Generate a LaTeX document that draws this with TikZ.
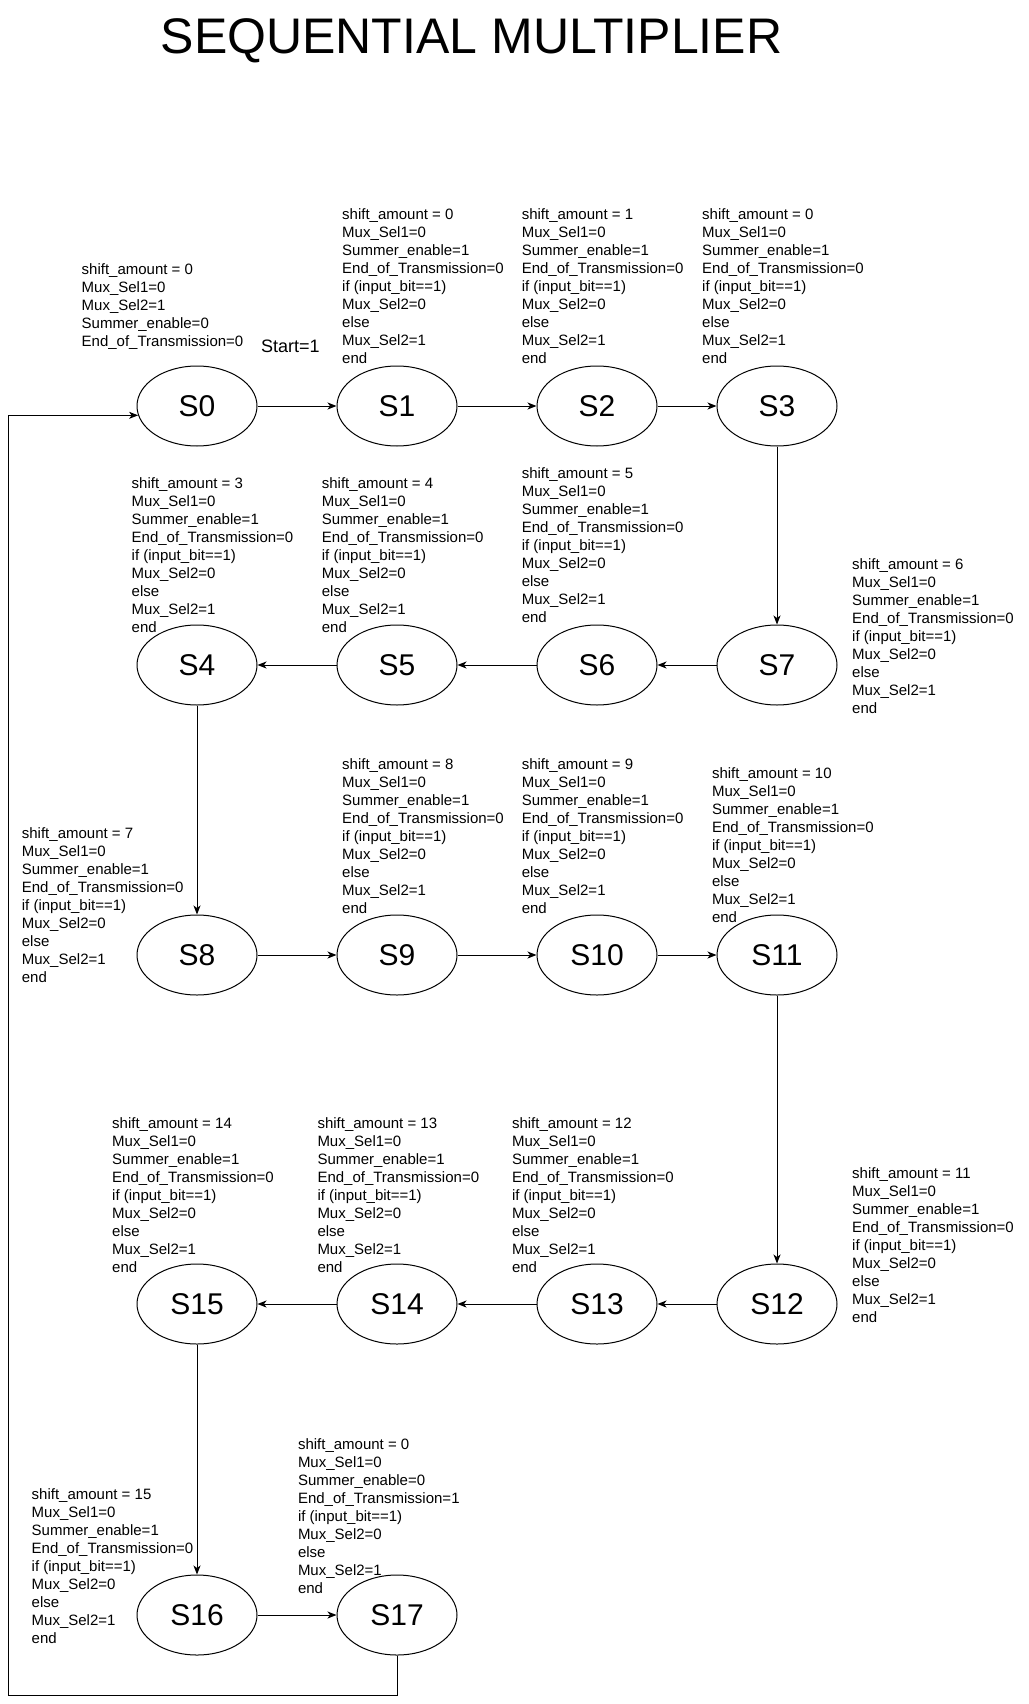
\documentclass[tikz,border=0pt]{standalone}
\usepackage{fontspec}
\setmainfont{Liberation Sans}
\usetikzlibrary{shapes.geometric,arrows.meta}

% output block of a counting state
\newcommand\fsmout[3]{\strut shift\_amount = #1\\Mux\_Sel1=0\\Summer\_enable=#2\\End\_of\_Transmission=#3\\if (input\_bit==1)\\Mux\_Sel2=0\\else\\Mux\_Sel2=1\\end}

\begin{document}
\begin{tikzpicture}[x=1pt,y=-1pt,
  stnode/.style={draw,line width=1pt,ellipse,minimum width=120pt,minimum height=80pt,inner sep=0pt,font=\fontsize{30}{36}\selectfont},
  lbl/.style={anchor=north west,inner sep=0pt,align=left,font=\fontsize{15}{18}\selectfont},
  arr/.style={line width=1pt,-{Stealth[length=9pt,width=7pt,inset=2.5pt]}}]
\useasboundingbox (0,0) rectangle (1028,1704);
\fill[white] (0,0) rectangle (1028,1704);

\node[anchor=base,font=\fontsize{50}{58}\selectfont] (title) at (471.5,54) {SEQUENTIAL MULTIPLIER};

% states
\node[stnode] (S0) at (197,406) {S0};
\node[stnode] (S1) at (397,406) {S1};
\node[stnode] (S2) at (597,406) {S2};
\node[stnode] (S3) at (777,406) {S3};
\node[stnode] (S4) at (197,665) {S4};
\node[stnode] (S5) at (397,665) {S5};
\node[stnode] (S6) at (597,665) {S6};
\node[stnode] (S7) at (777,665) {S7};
\node[stnode] (S8) at (197,955) {S8};
\node[stnode] (S9) at (397,955) {S9};
\node[stnode] (S10) at (597,955) {S10};
\node[stnode] (S11) at (777,955) {S11};
\node[stnode] (S12) at (777,1304) {S12};
\node[stnode] (S13) at (597,1304) {S13};
\node[stnode] (S14) at (397,1304) {S14};
\node[stnode] (S15) at (197,1304) {S15};
\node[stnode] (S16) at (197,1615) {S16};
\node[stnode] (S17) at (397,1615) {S17};

% outputs of each state
\node[lbl] (L0) at (81.5,262) {\strut shift\_amount = 0\\Mux\_Sel1=0\\Mux\_Sel2=1\\Summer\_enable=0\\End\_of\_Transmission=0};
\node[anchor=base west,inner sep=0pt,font=\fontsize{18}{22}\selectfont] (start) at (261,352) {Start=1};
\node[lbl] (L1) at (342,206.5) {\fsmout{0}{1}{0}};
\node[lbl] (L2) at (521.6,206.5) {\fsmout{1}{1}{0}};
\node[lbl] (L3) at (702,206.5) {\fsmout{0}{1}{0}};
\node[lbl] (L4) at (131.5,476) {\fsmout{3}{1}{0}};
\node[lbl] (L5) at (321.7,476) {\fsmout{4}{1}{0}};
\node[lbl] (L6) at (521.6,466) {\fsmout{5}{1}{0}};
\node[lbl] (L7) at (852,556.5) {\fsmout{6}{1}{0}};
\node[lbl] (L8) at (21.7,826) {\fsmout{7}{1}{0}};
\node[lbl] (L9) at (342,756.5) {\fsmout{8}{1}{0}};
\node[lbl] (L10) at (521.6,756.5) {\fsmout{9}{1}{0}};
\node[lbl] (L11) at (711.8,766) {\fsmout{10}{1}{0}};
\node[lbl] (L12) at (852,1166) {\fsmout{11}{1}{0}};
\node[lbl] (L13) at (511.8,1116) {\fsmout{12}{1}{0}};
\node[lbl] (L14) at (317.3,1116) {\fsmout{13}{1}{0}};
\node[lbl] (L15) at (112,1116) {\fsmout{14}{1}{0}};
\node[lbl] (L16) at (31.5,1486.5) {\fsmout{15}{1}{0}};
\node[lbl] (L17) at (297.8,1436.5) {\fsmout{0}{0}{1}};

% transitions
\draw[arr] (S0) -- (S1);
\draw[arr] (S1) -- (S2);
\draw[arr] (S2) -- (S3);
\draw[arr] (S3) -- (S7);
\draw[arr] (S7) -- (S6);
\draw[arr] (S6) -- (S5);
\draw[arr] (S5) -- (S4);
\draw[arr] (S4) -- (S8);
\draw[arr] (S8) -- (S9);
\draw[arr] (S9) -- (S10);
\draw[arr] (S10) -- (S11);
\draw[arr] (S11) -- (S12);
\draw[arr] (S12) -- (S13);
\draw[arr] (S13) -- (S14);
\draw[arr] (S14) -- (S15);
\draw[arr] (S15) -- (S16);
\draw[arr] (S16) -- (S17);

% return path to the initial state
\coordinate (fbL) at (8,1695);
\draw[arr] (S17.south) |- (fbL) |- (S0.189);
\end{tikzpicture}
\end{document}
